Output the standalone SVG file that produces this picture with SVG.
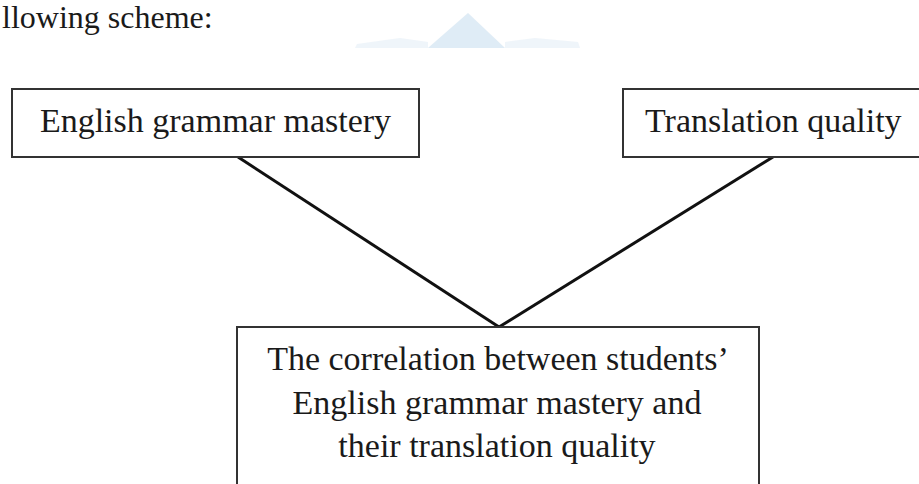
<svg xmlns="http://www.w3.org/2000/svg" width="919" height="484" viewBox="0 0 919 484">
<style>
.box{fill:#fff;stroke:#333;stroke-width:2}
.t{font-family:"Liberation Serif","Times New Roman",serif;font-size:34px;fill:#1a1a1a}
.c{text-anchor:middle}
.conn{stroke:#111;stroke-width:3;fill:none}
.wm{fill:#d5e6f3}
</style>
<rect width="919" height="484" fill="#fff"/>
<g id="watermark" opacity="0.75">
<polygon class="wm" points="428,48 468,13 505,48"/>
<polygon class="wm" points="355,48 357,44 400,38 428,42 428,48" opacity="0.5"/>
<polygon class="wm" points="505,48 505,42 535,38 578,42 580,48" opacity="0.5"/>
</g>
<text class="t" x="2" y="28" style="font-size:32px">llowing scheme:</text>
<g id="connectors">
<line class="conn" x1="238" y1="157" x2="499" y2="327"/>
<line class="conn" x1="773" y1="157" x2="499" y2="327"/>
</g>
<g id="node-grammar">
<rect class="box" x="12" y="89" width="407" height="68"/>
<text class="t c" x="215.5" y="132">English grammar mastery</text>
</g>
<g id="node-translation">
<rect class="box" x="623" y="89" width="320" height="68"/>
<text class="t" x="645" y="132">Translation quality</text>
</g>
<g id="node-correlation">
<rect class="box" x="237" y="327" width="522" height="200"/>
<text class="t c" x="498" y="370">The correlation between students’</text>
<text class="t c" x="497" y="414">English grammar mastery and</text>
<text class="t c" x="497" y="457">their translation quality</text>
</g>
</svg>
